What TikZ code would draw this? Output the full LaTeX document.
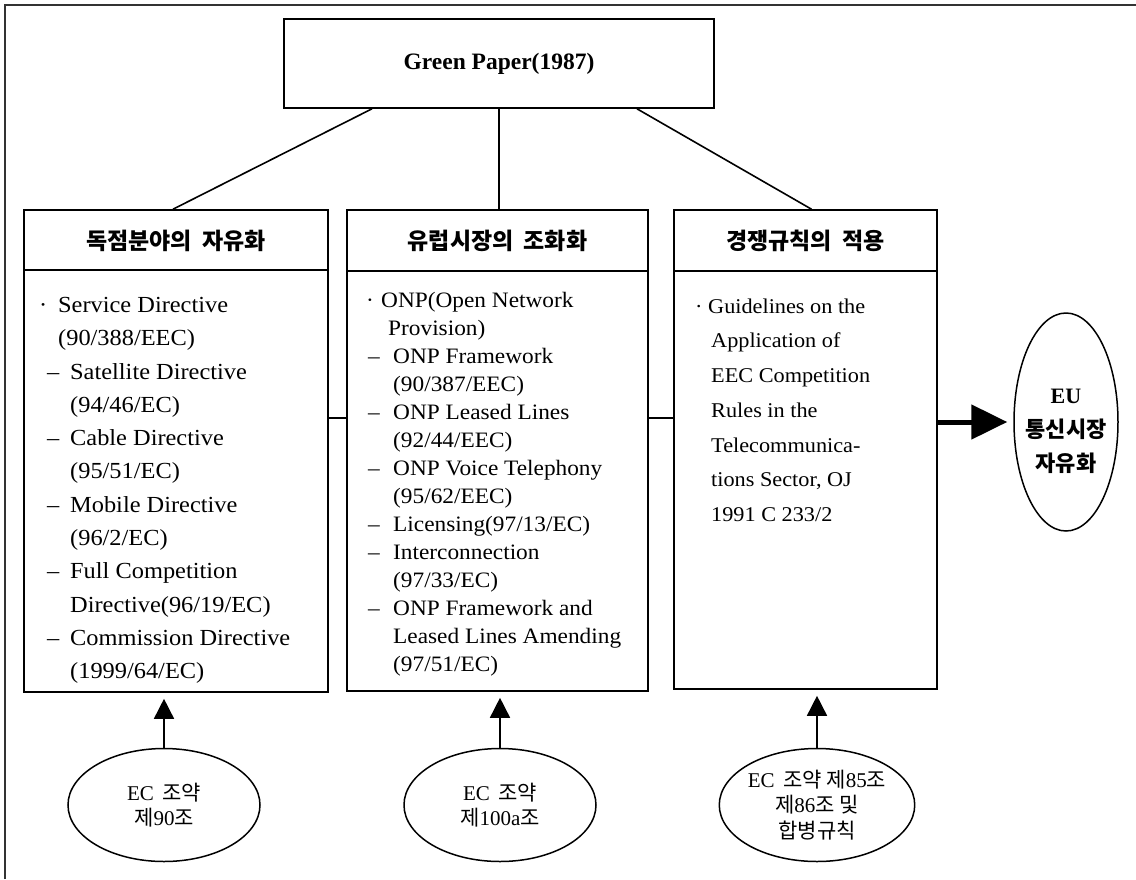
\documentclass[tikz,border=0pt]{standalone}
\usepackage{fontspec}
\setmainfont{Liberation Serif}
\newfontfamily\bodyfont{Liberation Serif}[FakeStretch=1.06]
\newfontfamily\krfont{Noto Sans CJK KR}
\newcommand{\kr}[1]{{\krfont #1}}
\newcommand{\dotitem}[1]{\makebox[#1][l]{·}}
\newcommand{\dashitem}[2]{\hspace*{#1}\makebox[#2][l]{–}}
\usetikzlibrary{arrows.meta,shapes.geometric,positioning}

\begin{document}
\begin{tikzpicture}[x=1pt,y=1pt,yscale=-1,
    box/.style={draw, line width=1.6pt, inner sep=0pt},
    head/.style={inner sep=0pt, font=\krfont\bfseries\fontsize{23}{26}\selectfont},
    txt/.style={anchor=north west, inner sep=0pt, align=left},
    oval/.style={draw, ellipse, line width=1.5pt, inner sep=0pt, minimum width=192pt, minimum height=113pt, align=center, font=\fontsize{21}{25.5}\selectfont},
    link/.style={line width=1.6pt},
    thinlink/.style={line width=1.2pt},
    up/.style={line width=1.6pt, -{Triangle[width=20pt,length=20pt]}, shorten >=6pt}
  ]
  \useasboundingbox (0,0) rectangle (1136,879);
  %frame
  \draw [line width=1.1pt, black!80] (5,879) -- (5,5) -- (1136,5);

  %Shape: top box
  \node [box, minimum width=430pt, minimum height=89pt, font=\bfseries\fontsize{23.5}{28}\selectfont] (green) at (499,63.5) {Green Paper(1987)};

  %Shape: three columns
  \node [box, minimum width=304pt, minimum height=482pt] (c1) at (176,451) {};
  \node [box, minimum width=301pt, minimum height=481pt] (c2) at (497.5,450.5) {};
  \node [box, minimum width=263pt, minimum height=479pt] (c3) at (805.5,449.5) {};
  \draw [thinlink] (c1.west |- 0,270) -- (c1.east |- 0,270);
  \draw [thinlink] (c2.west |- 0,271) -- (c2.east |- 0,271);
  \draw [thinlink] (c3.west |- 0,271) -- (c3.east |- 0,271);

  % Text Node
  \node [head] (h1) at (c1.north |- 0,241) {독점분야의\hspace{0.45em}자유화};
  % Text Node
  \node [head] (h2) at (c2.north |- 0,241) {유럽시장의\hspace{0.45em}조화화};
  % Text Node
  \node [head] (h3) at (c3.north |- 0,241) {경쟁규칙의\hspace{0.45em}적용};

  % Text Node
  \node [txt, font=\bodyfont\fontsize{23}{33.3}\selectfont] (t1) at (39,297) {%
    \dotitem{19pt}Service Directive\\
    \hspace*{19pt}(90/388/EEC)\\
    \dashitem{8pt}{23pt}Satellite Directive\\
    \hspace*{31pt}(94/46/EC)\\
    \dashitem{8pt}{23pt}Cable Directive\\
    \hspace*{31pt}(95/51/EC)\\
    \dashitem{8pt}{23pt}Mobile Directive\\
    \hspace*{31pt}(96/2/EC)\\
    \dashitem{8pt}{23pt}Full Competition\\
    \hspace*{31pt}Directive(96/19/EC)\\
    \dashitem{8pt}{23pt}Commission Directive\\
    \hspace*{31pt}(1999/64/EC)};
  % Text Node
  \node [txt, font=\bodyfont\fontsize{22}{28}\selectfont] (t2) at (366,292) {%
    \dotitem{15pt}ONP(Open Network\\
    \hspace*{22pt}Provision)\\
    \dashitem{2pt}{25pt}ONP Framework\\
    \hspace*{27pt}(90/387/EEC)\\
    \dashitem{2pt}{25pt}ONP Leased Lines\\
    \hspace*{27pt}(92/44/EEC)\\
    \dashitem{2pt}{25pt}ONP Voice Telephony\\
    \hspace*{27pt}(95/62/EEC)\\
    \dashitem{2pt}{25pt}Licensing(97/13/EC)\\
    \dashitem{2pt}{25pt}Interconnection\\
    \hspace*{27pt}(97/33/EC)\\
    \dashitem{2pt}{25pt}ONP Framework and\\
    \hspace*{27pt}Leased Lines Amending\\
    \hspace*{27pt}(97/51/EC)};
  % Text Node
  \node [txt, font=\bodyfont\fontsize{21}{34.7}\selectfont] (t3) at (695,298.5) {%
    \dotitem{13pt}Guidelines on the\\
    \hspace*{16pt}Application of\\
    \hspace*{16pt}EEC Competition\\
    \hspace*{16pt}Rules in the\\
    \hspace*{16pt}Telecommunica-\\
    \hspace*{16pt}tions Sector, OJ\\
    \hspace*{16pt}1991 C 233/2};

  %Shape: ellipses
  \node [draw, ellipse, line width=1.5pt, minimum width=104pt, minimum height=218pt, inner sep=0pt] (eu) at (1066,422) {};
  \node [align=center, inner sep=0pt, font=\bfseries\fontsize{22}{34}\selectfont] (eutext) at (1066,431) {EU\\\kr{통신시장}\\\kr{자유화}};
  \node [oval] (art90) at (164,805) {EC\hspace{0.4em}\kr{조약}\\\kr{제}90\kr{조}};
  \node [oval] (art100) at (500,805) {EC\hspace{0.4em}\kr{조약}\\\kr{제}100a\kr{조}};
  \node [oval] (art85) at (817,805) {EC\hspace{0.4em}\kr{조약 제}85\kr{조}\\\kr{제}86\kr{조 및}\\\kr{합병규칙}};

  %connectors
  \coordinate (mid) at (0,418);
  \draw [link] ([xshift=-127pt]green.south) -- ([xshift=-3pt]c1.north);
  \draw [link] (green.south) -- (green.south |- c2.north);
  \draw [link] ([xshift=138pt]green.south) -- ([xshift=6pt]c3.north);
  \draw [thinlink] (c1.east |- mid) -- (c2.west |- mid);
  \draw [thinlink] (c2.east |- mid) -- (c3.west |- mid);
  \draw [line width=5pt, -{Triangle[width=34pt,length=36pt]}, shorten >=6pt] (c3.east |- eu) -- (eu.west);
  \draw [up] (art90.north) -- (art90.north |- c1.south);
  \draw [up] (art100.north) -- (art100.north |- c2.south);
  \draw [up] (art85.north) -- (art85.north |- c3.south);

\end{tikzpicture}
\end{document}
